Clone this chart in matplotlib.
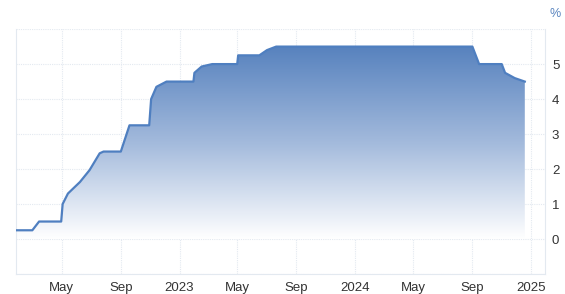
import matplotlib
matplotlib.use("Agg")
import matplotlib.pyplot as plt
import matplotlib.dates as mdates
import numpy as np
import pandas as pd
from matplotlib.colors import LinearSegmentedColormap
from matplotlib.patches import PathPatch
from matplotlib.path import Path

# policy rate readings taken off the chart (date, percent)
dates = [
    "2022-01-26", "2022-03-01", "2022-03-15", "2022-04-30", "2022-05-03",
    "2022-05-14", "2022-06-08", "2022-06-28", "2022-07-19", "2022-07-27",
    "2022-09-01", "2022-09-19", "2022-10-30", "2022-11-03", "2022-11-14",
    "2022-12-05", "2023-01-30", "2023-02-01", "2023-02-16", "2023-03-10",
    "2023-05-01", "2023-05-03", "2023-06-16", "2023-07-02", "2023-07-21",
    "2024-09-01", "2024-09-15", "2024-11-01", "2024-11-08", "2024-11-28",
    "2024-12-19",
]
rates = [
    0.25, 0.25, 0.5, 0.5, 1.0,
    1.3, 1.63, 1.97, 2.45, 2.5,
    2.5, 3.25, 3.25, 4.0, 4.35,
    4.5, 4.5, 4.75, 4.93, 5.0,
    5.0, 5.25, 5.25, 5.4, 5.5,
    5.5, 5.0, 5.0, 4.75, 4.6,
    4.5,
]
tick_dates = ["2022-05-01", "2022-09-01", "2023-01-01", "2023-05-01",
              "2023-09-01", "2024-01-01", "2024-05-01", "2024-09-01",
              "2025-01-01"]
tick_labels = ["May", "Sep", "2023", "May", "Sep", "2024", "May", "Sep", "2025"]
y_ticks = [0, 1, 2, 3, 4, 5]

plt.rcParams["font.family"] = ["Liberation Sans", "DejaVu Sans"]

x = mdates.date2num(pd.to_datetime(dates))
y = np.array(rates)

fig = plt.figure(figsize=(5.65, 2.94), dpi=100)
ax = fig.add_axes([0.0283, 0.068, 0.9363, 0.833])
ax.set_axisbelow(True)

xmin = mdates.date2num(pd.Timestamp("2022-01-26"))
xmax = mdates.date2num(pd.Timestamp("2025-01-30"))
ax.set_xlim(xmin, xmax)
ax.set_ylim(-1, 6)

# gradient fill clipped to area under the line
cmap = LinearSegmentedColormap.from_list("fade", ["#ffffff", "#a3badc", "#5782be"])
grad = np.linspace(0, 1, 256).reshape(-1, 1)
img = ax.imshow(grad, cmap=cmap, aspect="auto", origin="lower",
                extent=[x[0], x[-1], 0, y.max()], zorder=1)
verts = np.vstack([[x[0], 0], np.column_stack([x, y]), [x[-1], 0], [x[0], 0]])
clip = PathPatch(Path(verts, closed=True), facecolor="none", edgecolor="none")
ax.add_patch(clip)
img.set_clip_path(clip)

ax.plot(x, y, color="#4f7fc0", lw=1.6, zorder=3, solid_joinstyle="round")

ax.set_xticks(mdates.date2num(pd.to_datetime(tick_dates)))
ax.set_xticklabels(tick_labels)
ax.set_yticks(range(-1, 7))
ax.set_yticklabels(["" if v not in y_ticks else str(v) for v in range(-1, 7)])
ax.yaxis.tick_right()
ax.tick_params(axis="both", length=0, labelsize=9.5, colors="#333333")
ax.tick_params(axis="x", pad=6)
ax.tick_params(axis="y", pad=5)

ax.grid(True, color="#e3e9f0", lw=0.8, linestyle=(0, (1, 1)))
for side in ["top", "left", "right", "bottom"]:
    ax.spines[side].set_color("#e3e9f0")
    ax.spines[side].set_linewidth(0.8)
ax.spines["top"].set_visible(False)

fig.text(0.982, 0.952, "%", color="#5a85bf", fontsize=9, ha="center", va="center")

fig.savefig("out.png", dpi=100)
